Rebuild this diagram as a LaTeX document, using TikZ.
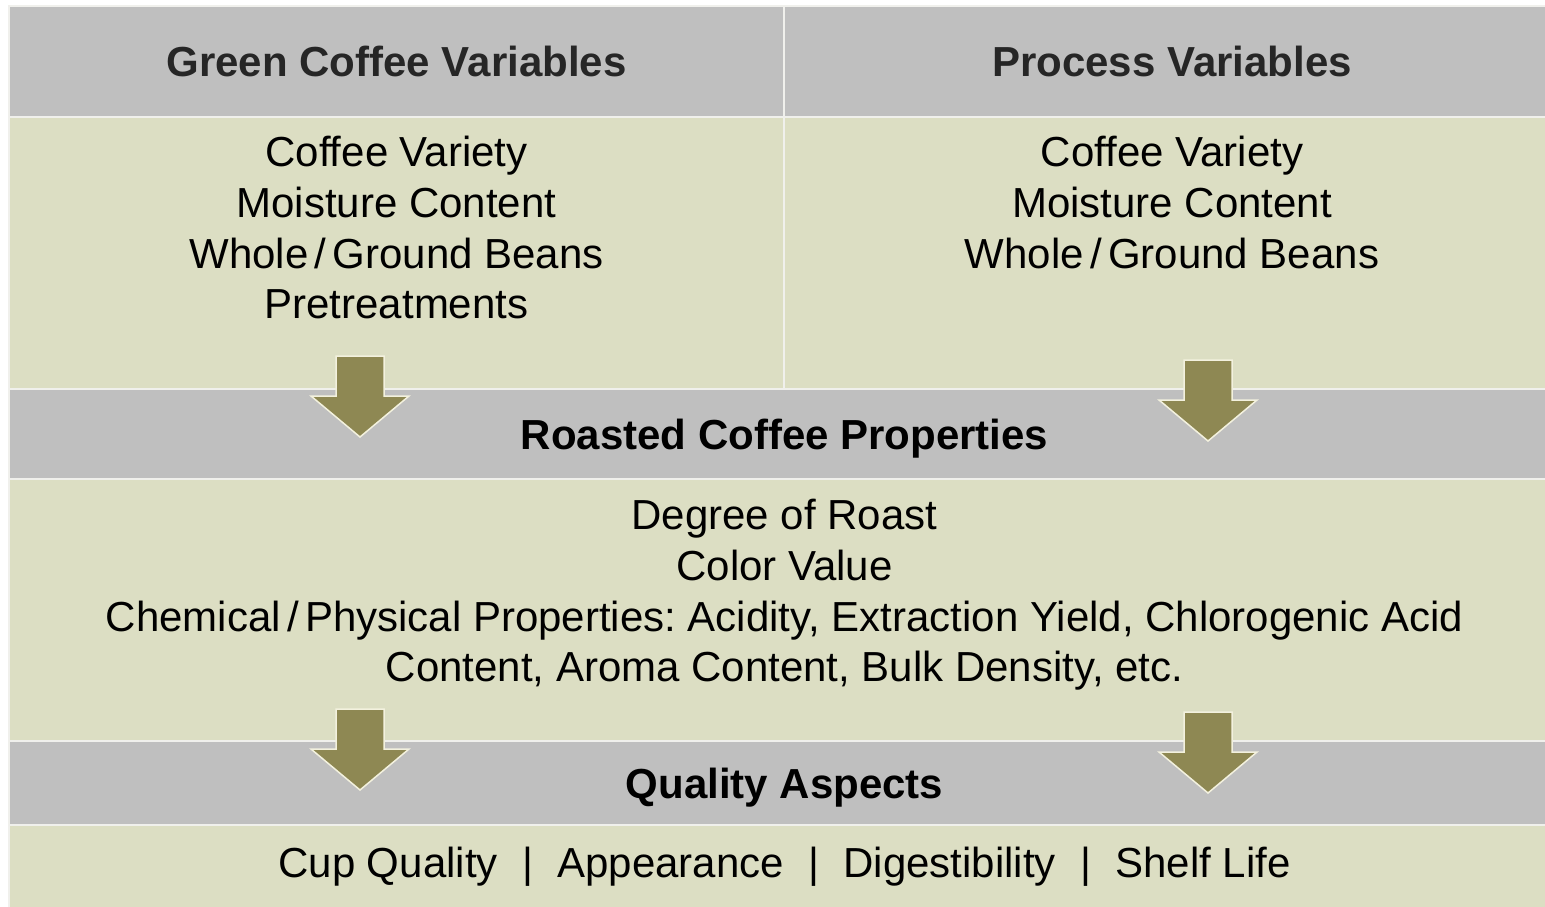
\documentclass[tikz,border=0pt]{standalone}
\usepackage{fontspec}
\setmainfont{Liberation Sans}
\usetikzlibrary{positioning}
\frenchspacing

\definecolor{hdrgray}{HTML}{BFBFBF}
\definecolor{leafgreen}{HTML}{DCDEC3}
\definecolor{olive}{HTML}{8E8853}
\definecolor{cream}{HTML}{F3F1DE}
\definecolor{rule}{HTML}{F0F0EC}
\definecolor{darktext}{HTML}{262626}

\begin{document}
\begin{tikzpicture}[
    x=0.5pt,
    y=-0.5pt,
    font=\fontsize{21}{25.3}\selectfont,
    line join=miter,
    cell/.style={
        draw=rule,
        line width=1pt,
        rectangle,
        inner sep=0pt,
        anchor=north west,
        align=center
    },
    header/.style={
        cell,
        fill=hdrgray
    },
    body/.style={
        cell,
        fill=leafgreen
    },
    title/.style={
        inner sep=0pt,
        font=\fontsize{21}{25.3}\selectfont\bfseries
    },
    listtext/.style={
        inner sep=0pt,
        align=center,
        text=black
    },
    bigarrow/.style={
        fill=olive,
        draw=cream,
        line width=0.75pt
    }
]

\useasboundingbox (0,0) rectangle (1545,906);
\fill[white] (0,0) rectangle (1545,906);

% =========================
% Top row: two variable groups
% =========================
\node[header, minimum width=387.5pt, minimum height=55.5pt] (greenhdr) at (8,5) {};
\node[header, minimum width=381pt, minimum height=55.5pt] (prochdr) at (783,5) {};
\node[body, minimum width=387.5pt, minimum height=136pt] (greenbody) at (8,116) {};
\node[body, minimum width=381pt, minimum height=136pt] (procbody) at (783,116) {};

\node[title, text=darktext] (greentitle) at (greenhdr.center) {Green Coffee Variables};
\node[title, text=darktext, xshift=3.5pt] (proctitle) at (prochdr.center) {Process Variables};

\node[listtext, below=10pt of greenbody.north] (greenlist)
    {Coffee Variety\\Moisture Content\\Whole\kern.15em/\kern.15em Ground Beans\\Pretreatments};
\node[listtext, below=10pt of procbody.north, xshift=3.5pt] (proclist)
    {Coffee Variety\\Moisture Content\\Whole\kern.15em/\kern.15em Ground Beans};

% =========================
% Middle: roasted coffee
% =========================
\node[header, minimum width=768.5pt, minimum height=45pt] (roasthdr) at (8,388) {};
\node[body, minimum width=768.5pt, minimum height=131pt] (roastbody) at (8,478) {};

\node[title, xshift=3.5pt, yshift=-2.5pt] (roasttitle) at (roasthdr.center) {Roasted Coffee Properties};
\node[listtext, below=10.5pt of roastbody.north, xshift=3.5pt] (roastlist)
    {Degree of Roast\\Color Value\\Chemical\kern.15em/\kern.15em Physical Properties: Acidity, Extraction Yield, Chlorogenic Acid\\Content, Aroma Content, Bulk Density, etc.};

% =========================
% Bottom: quality
% =========================
\node[header, minimum width=768.5pt, minimum height=42pt] (qualhdr) at (8,740) {};
\node[body, minimum width=768.5pt, minimum height=42pt] (qualbody) at (8,824) {};

\node[title, xshift=3.5pt, yshift=-2.5pt] (qualtitle) at (qualhdr.center) {Quality Aspects};
\node[listtext, xshift=3.5pt] (quallist) at (qualbody.center)
    {Cup Quality\hspace{0.58em}|\hspace{0.58em}Appearance\hspace{0.58em}|\hspace{0.58em}Digestibility\hspace{0.58em}|\hspace{0.58em}Shelf Life};

% =========================
% Block arrows between rows
% =========================
\foreach \cx/\yt in {360/356, 1208/360, 360/709, 1208/712}{
    \draw[bigarrow] (\cx-24,\yt) -- (\cx+24,\yt) -- (\cx+24,\yt+40)
        -- (\cx+49,\yt+40) -- (\cx,\yt+81) -- (\cx-49,\yt+40)
        -- (\cx-24,\yt+40) -- cycle;
}

\end{tikzpicture}
\end{document}
